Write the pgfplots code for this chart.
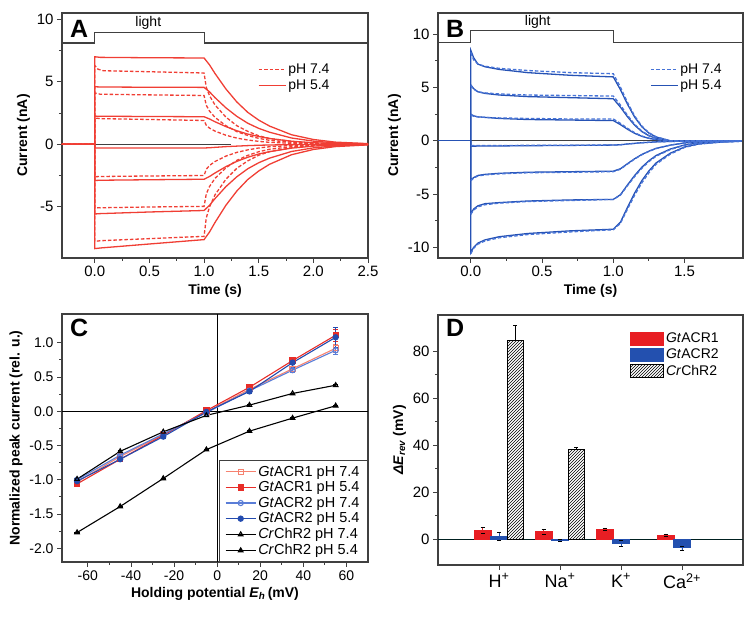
\documentclass[border=0pt]{standalone}
\usepackage{fontspec}
\setmainfont{Liberation Sans}
\usepackage{pgfplots}
\pgfplotsset{compat=1.18}
\usetikzlibrary{patterns}

\definecolor{ared}{RGB}{240,62,52}
\definecolor{bblue}{RGB}{38,82,180}
\definecolor{bdash}{RGB}{70,115,215}
\definecolor{c1a}{RGB}{246,130,112}
\definecolor{c1b}{RGB}{232,45,40}
\definecolor{c2a}{RGB}{90,125,215}
\definecolor{c2b}{RGB}{35,75,175}
\definecolor{dred}{RGB}{232,30,35}
\definecolor{dblue}{RGB}{35,80,175}
\definecolor{axgray}{RGB}{64,64,64}

\pgfplotsset{
  panel/.style={scale only axis, anchor=south west,
    axis line style={axgray, line width=1.1pt},
    tick style={axgray, line width=0.9pt},
    tick align=outside, xtick pos=left, ytick pos=left,
    major tick length=5pt, minor tick length=3pt,
    tick label style={font=\fontsize{15}{15}\selectfont},
    label style={font=\fontsize{14}{14}\selectfont\bfseries},
    /pgf/number format/assume math mode=true},
  onedec/.style={/pgf/number format/.cd, fixed, fixed zerofill, precision=1},
  aS/.style={ared, line width=1.3pt, forget plot},
  aD/.style={ared, line width=1.3pt, dash pattern=on 3.5pt off 2pt, forget plot},
  bS/.style={bblue, line width=1.3pt, forget plot},
  bD/.style={bdash, line width=1.3pt, dash pattern=on 3.5pt off 2pt, forget plot},
  lightline/.style={axgray, line width=1.1pt, forget plot},
  cline/.style={line width=1.1pt, mark size=2.6pt,
    error bars/y dir=both, error bars/y explicit},
  dbar/.style={ybar, bar width=0.275, bar shift=0pt, line width=0.8pt,
    legend image code/.code={\draw[##1] (0pt,-6.5pt) rectangle (33pt,6.5pt);}},
}

\begin{document}
\begin{tikzpicture}[x=1pt,y=1pt]
\useasboundingbox (0,0) rectangle (750,617);

% ---------------- A ----------------
\begin{axis}[panel, at={(62pt,359pt)}, width=306pt, height=245pt,
  xmin=-0.3, xmax=2.5, ymin=-9.1, ymax=10.5,
  xtick={0,0.5,1,1.5,2,2.5}, ytick={-5,0,5,10}, minor tick num=1,
  xticklabel style={onedec},
  xlabel={Time (s)}, ylabel={Current (nA)},
  legend style={draw=none, fill=none, at={(rel axis cs:0.63,0.81)}, anchor=north west,
    font=\fontsize{14}{16}\selectfont, row sep=1pt},
  legend image code/.code={\draw[#1] (0pt,0pt) -- (27pt,0pt);}]
\addplot[lightline] coordinates {(-0.3,8.1) (0,8.1) (0,8.95) (1,8.95) (1,8.1) (2.5,8.1)};
\node[font=\fontsize{14}{14}\selectfont] at (axis cs:0.49,9.7) {light};
\node[font=\fontsize{25}{25}\selectfont\bfseries] at (rel axis cs:0.056,0.935) {A};
\addplot[axgray, line width=1pt, forget plot] coordinates {(0,0) (1.25,0)};
% pH 5.4 (solid)
\addplot[aS] coordinates {(-0.3,0) (0,0) (0,7.0) (0.05,6.95) (0.5,6.92) (1.0,6.9) (1.05,6.35) (1.1,5.66) (1.2,4.42) (1.3,3.38) (1.4,2.55) (1.5,1.93) (1.6,1.45) (1.8,0.76) (2.0,0.38) (2.2,0.17) (2.5,0.05)};
\addplot[aS] coordinates {(-0.3,0) (0,0) (0,4.6) (0.05,4.58) (0.5,4.56) (1.0,4.55) (1.05,4.19) (1.1,3.73) (1.2,2.91) (1.3,2.23) (1.4,1.68) (1.5,1.27) (1.6,0.96) (1.8,0.50) (2.0,0.25) (2.2,0.11) (2.5,0.03)};
\addplot[aS] coordinates {(-0.3,0) (0,0) (0,2.25) (0.05,2.24) (0.5,2.22) (1.0,2.2) (1.05,2.02) (1.1,1.80) (1.2,1.41) (1.3,1.08) (1.4,0.81) (1.5,0.62) (1.6,0.46) (1.8,0.24) (2.0,0.12) (2.2,0.06) (2.5,0.02)};
\addplot[aS] coordinates {(-0.3,0) (0,0) (0,-0.3) (1.0,-0.3) (1.05,-0.28) (1.1,-0.25) (1.2,-0.19) (1.3,-0.15) (1.4,-0.11) (1.5,-0.08) (1.6,-0.06) (1.8,-0.03) (2.0,-0.02) (2.2,-0.01) (2.5,0)};
\addplot[aS] coordinates {(-0.3,0) (0,0) (0,-2.9) (0.05,-2.88) (0.5,-2.84) (1.0,-2.8) (1.05,-2.58) (1.1,-2.30) (1.2,-1.79) (1.3,-1.37) (1.4,-1.04) (1.5,-0.78) (1.6,-0.59) (1.8,-0.31) (2.0,-0.15) (2.2,-0.07) (2.5,-0.02)};
\addplot[aS] coordinates {(-0.3,0) (0,0) (0,-5.58) (0.05,-5.55) (0.5,-5.42) (1.0,-5.3) (1.05,-4.88) (1.1,-4.35) (1.2,-3.39) (1.3,-2.60) (1.4,-1.96) (1.5,-1.48) (1.6,-1.11) (1.8,-0.58) (2.0,-0.29) (2.2,-0.13) (2.5,-0.04)};
\addplot[aS] coordinates {(-0.3,0) (0,0) (0,-8.35) (0.05,-8.3) (0.5,-7.98) (1.0,-7.63) (1.05,-7.02) (1.1,-6.26) (1.2,-4.88) (1.3,-3.74) (1.4,-2.82) (1.5,-2.14) (1.6,-1.60) (1.8,-0.84) (2.0,-0.42) (2.2,-0.19) (2.5,-0.05)};
% pH 7.4 (dashed)
\addplot[aD] coordinates {(-0.3,0) (0,0) (0,6.3) (0.03,6.0) (0.08,5.88) (0.5,5.8) (1.0,5.7) (1.02,4.56) (1.05,3.88) (1.1,3.14) (1.2,2.17) (1.3,1.48) (1.4,1.03) (1.5,0.68) (1.6,0.46) (1.8,0.23) (2.0,0.09) (2.5,0)};
\addplot[aD] coordinates {(-0.3,0) (0,0) (0,4.1) (0.05,4.0) (0.5,3.95) (1.0,3.9) (1.02,3.12) (1.05,2.65) (1.1,2.15) (1.2,1.48) (1.3,1.01) (1.4,0.70) (1.5,0.47) (1.6,0.31) (1.8,0.16) (2.0,0.06) (2.5,0)};
\addplot[aD] coordinates {(-0.3,0) (0,0) (0,2.1) (0.05,2.05) (0.5,1.98) (1.0,1.9) (1.02,1.52) (1.05,1.29) (1.1,1.05) (1.2,0.72) (1.3,0.49) (1.4,0.34) (1.5,0.23) (1.6,0.15) (1.8,0.08) (2.0,0.03) (2.5,0)};
\addplot[aD] coordinates {(-0.3,0) (0,0) (0,-2.6) (0.05,-2.58) (0.5,-2.54) (1.0,-2.5) (1.02,-2.0) (1.05,-1.70) (1.1,-1.38) (1.2,-0.95) (1.3,-0.65) (1.4,-0.45) (1.5,-0.30) (1.6,-0.20) (1.8,-0.10) (2.0,-0.04) (2.5,0)};
\addplot[aD] coordinates {(-0.3,0) (0,0) (0,-5.1) (0.05,-5.08) (0.5,-5.02) (1.0,-4.97) (1.02,-3.98) (1.05,-3.38) (1.1,-2.73) (1.2,-1.89) (1.3,-1.29) (1.4,-0.89) (1.5,-0.60) (1.6,-0.40) (1.8,-0.20) (2.0,-0.07) (2.5,0)};
\addplot[aD] coordinates {(-0.3,0) (0,0) (0,-7.77) (0.05,-7.72) (0.5,-7.55) (1.0,-7.37) (1.02,-5.90) (1.05,-5.01) (1.1,-4.05) (1.2,-2.80) (1.3,-1.92) (1.4,-1.33) (1.5,-0.88) (1.6,-0.59) (1.8,-0.29) (2.0,-0.11) (2.5,0)};
\addlegendimage{ared, line width=1.3pt, dash pattern=on 3.5pt off 2pt}
\addlegendentry{pH 7.4}
\addlegendimage{ared, line width=1.3pt}
\addlegendentry{pH 5.4}
\end{axis}

% ---------------- B ----------------
\begin{axis}[panel, at={(438pt,359pt)}, width=305pt, height=245pt,
  xmin=-0.23, xmax=1.91, ymin=-11, ymax=12,
  xtick={0,0.5,1,1.5}, ytick={-10,-5,0,5,10}, minor tick num=1,
  xticklabel style={onedec},
  xlabel={Time (s)}, ylabel={Current (nA)},
  legend style={draw=none, fill=none, at={(rel axis cs:0.685,0.81)}, anchor=north west,
    font=\fontsize{14}{16}\selectfont, row sep=1pt},
  legend image code/.code={\draw[#1] (0pt,0pt) -- (27pt,0pt);}]
\addplot[lightline] coordinates {(-0.23,9.25) (0,9.25) (0,10.35) (1,10.35) (1,9.25) (1.91,9.25)};
\node[font=\fontsize{14}{14}\selectfont] at (axis cs:0.47,11.15) {light};
\node[font=\fontsize{25}{25}\selectfont\bfseries] at (rel axis cs:0.056,0.935) {B};
\addplot[axgray, line width=1.2pt, forget plot] coordinates {(0,0) (1.91,0)};
\addplot[bS] coordinates {(-0.23,0) (0,0)};
% pH 5.4 (solid)
\addplot[bS] coordinates {(0,0) (0,8.5) (0.02,7.8) (0.05,7.2) (0.1,6.95) (0.2,6.7) (0.4,6.4) (0.7,6.15) (1.0,6.0) (1.05,4.8) (1.1,3.42) (1.15,2.22) (1.2,1.32) (1.25,0.72) (1.3,0.36) (1.4,0) (1.5,-0.06) (1.6,0) (1.75,0) (1.9,0)};
\addplot[bS] coordinates {(0,0) (0,5.25) (0.02,4.9) (0.05,4.6) (0.1,4.45) (0.2,4.3) (0.4,4.15) (0.7,4.05) (1.0,3.95) (1.05,3.16) (1.1,2.25) (1.15,1.46) (1.2,0.87) (1.25,0.47) (1.3,0.24) (1.4,0) (1.5,-0.04) (1.6,0) (1.75,0) (1.9,0)};
\addplot[bS] coordinates {(0,0) (0,2.5) (0.02,2.35) (0.05,2.25) (0.1,2.2) (0.2,2.1) (0.4,2.0) (0.7,1.95) (1.0,1.9) (1.05,1.52) (1.1,1.08) (1.15,0.70) (1.2,0.42) (1.25,0.23) (1.3,0.11) (1.4,0) (1.5,-0.02) (1.6,0) (1.75,0) (1.9,0)};
\addplot[bS] coordinates {(0,0) (0,-0.5) (0.5,-0.45) (1.0,-0.4) (1.05,-0.37) (1.1,-0.30) (1.15,-0.24) (1.2,-0.18) (1.25,-0.14) (1.3,-0.10) (1.4,-0.06) (1.5,-0.03) (1.6,-0.01) (1.75,0) (1.9,0)};
\addplot[bS] coordinates {(0,0) (0,-3.7) (0.02,-3.45) (0.05,-3.25) (0.1,-3.15) (0.2,-3.05) (0.4,-2.95) (0.7,-2.9) (1.0,-2.85) (1.05,-2.62) (1.1,-2.14) (1.15,-1.68) (1.2,-1.28) (1.25,-0.97) (1.3,-0.71) (1.4,-0.40) (1.5,-0.20) (1.6,-0.10) (1.75,-0.04) (1.9,-0.01)};
\addplot[bS] coordinates {(0,0) (0,-6.85) (0.02,-6.4) (0.05,-6.1) (0.1,-5.9) (0.2,-5.8) (0.4,-5.65) (0.7,-5.55) (1.0,-5.5) (1.05,-5.06) (1.1,-4.13) (1.15,-3.25) (1.2,-2.48) (1.25,-1.87) (1.3,-1.38) (1.4,-0.77) (1.5,-0.39) (1.6,-0.19) (1.75,-0.08) (1.9,-0.03)};
\addplot[bS] coordinates {(0,0) (0,-10.5) (0.02,-10.0) (0.05,-9.6) (0.1,-9.3) (0.2,-9.0) (0.4,-8.7) (0.7,-8.45) (1.0,-8.3) (1.05,-7.64) (1.1,-6.23) (1.15,-4.90) (1.2,-3.74) (1.25,-2.82) (1.3,-2.08) (1.4,-1.16) (1.5,-0.58) (1.6,-0.29) (1.75,-0.12) (1.9,-0.04)};
% pH 7.4 (dashed)
\addplot[bD] coordinates {(0,8.3) (0.02,7.6) (0.05,7.2) (0.1,7.0) (0.2,6.8) (0.4,6.6) (0.7,6.4) (1.0,6.3) (1.05,5.04) (1.1,3.59) (1.15,2.33) (1.2,1.39) (1.25,0.76) (1.3,0.38) (1.4,0) (1.5,-0.06) (1.6,0) (1.75,0) (1.9,0)};
\addplot[bD] coordinates {(0,5.2) (0.02,4.85) (0.05,4.6) (0.1,4.5) (0.2,4.4) (0.4,4.3) (0.7,4.25) (1.0,4.2) (1.05,3.36) (1.1,2.39) (1.15,1.55) (1.2,0.92) (1.25,0.50) (1.3,0.25) (1.4,0) (1.5,-0.04) (1.6,0) (1.75,0) (1.9,0)};
\addplot[bD] coordinates {(0,2.45) (0.02,2.3) (0.05,2.25) (0.1,2.2) (0.2,2.15) (0.4,2.1) (0.7,2.05) (1.0,2.05) (1.05,1.64) (1.1,1.17) (1.15,0.76) (1.2,0.45) (1.25,0.25) (1.3,0.12) (1.4,0) (1.5,-0.02) (1.6,0) (1.75,0) (1.9,0)};
\addplot[bD] coordinates {(0,-0.45) (0.5,-0.42) (1.0,-0.4) (1.05,-0.37) (1.1,-0.30) (1.15,-0.24) (1.2,-0.18) (1.25,-0.14) (1.3,-0.10) (1.4,-0.06) (1.5,-0.03) (1.6,-0.01) (1.75,0) (1.9,0)};
\addplot[bD] coordinates {(0,-3.75) (0.02,-3.5) (0.05,-3.3) (0.1,-3.2) (0.2,-3.1) (0.4,-3.0) (0.7,-2.95) (1.0,-2.9) (1.05,-2.67) (1.1,-2.18) (1.15,-1.71) (1.2,-1.31) (1.25,-0.99) (1.3,-0.73) (1.4,-0.41) (1.5,-0.20) (1.6,-0.10) (1.75,-0.04) (1.9,-0.01)};
\addplot[bD] coordinates {(0,-6.9) (0.02,-6.5) (0.05,-6.2) (0.1,-6.0) (0.2,-5.85) (0.4,-5.7) (0.7,-5.6) (1.0,-5.5) (1.05,-5.1) (1.1,-4.2) (1.15,-3.35) (1.2,-2.58) (1.25,-1.95) (1.3,-1.45) (1.4,-0.82) (1.5,-0.42) (1.6,-0.20) (1.75,-0.09) (1.9,-0.03)};
\addplot[bD] coordinates {(0,-10.6) (0.02,-10.1) (0.05,-9.7) (0.1,-9.4) (0.2,-9.1) (0.4,-8.8) (0.7,-8.55) (1.0,-8.35) (1.05,-7.75) (1.1,-6.4) (1.15,-5.1) (1.2,-3.95) (1.25,-3.0) (1.3,-2.2) (1.4,-1.25) (1.5,-0.62) (1.6,-0.31) (1.75,-0.13) (1.9,-0.04)};
\addlegendimage{bdash, line width=1.3pt, dash pattern=on 3.5pt off 2pt}
\addlegendentry{pH 7.4}
\addlegendimage{bblue, line width=1.3pt}
\addlegendentry{pH 5.4}
\end{axis}

% ---------------- C ----------------
\begin{axis}[panel, at={(62pt,55pt)}, width=306pt, height=248pt,
  xmin=-72, xmax=70, ymin=-2.2, ymax=1.42,
  xtick={-60,-40,-20,0,20,40,60}, ytick={-2,-1.5,-1,-0.5,0,0.5,1}, minor tick num=1,
  yticklabel style={onedec},
  tick label style={font=\fontsize{14}{14}\selectfont},
  xlabel={Holding potential \textit{E}\textsubscript{\textit{h}}\,(mV)},
  ylabel={Normalized peak current (rel. u.)},
  legend style={at={(rel axis cs:1,0)}, anchor=south east, draw=axgray, line width=1pt,
    font=\fontsize{14.5}{16.5}\selectfont, cells={anchor=west}, row sep=0pt,
    inner xsep=6pt, inner ysep=3pt},
  legend image code/.code={\draw[mark repeat=2, mark phase=2, #1] plot coordinates {(0pt,0pt) (15pt,0pt) (30pt,0pt)};}]
\addplot[black, line width=1pt, forget plot] coordinates {(0,-2.2) (0,1.42)};
\addplot[black, line width=1pt, forget plot] coordinates {(-72,0) (70,0)};
\node[font=\fontsize{25}{25}\selectfont\bfseries] at (rel axis cs:0.056,0.944) {C};
\addplot[cline, c1a, mark=square, mark options={solid, fill=white}] coordinates {
  (-65,-1.03) +- (0,0.02) (-45,-0.66) +- (0,0.02) (-25,-0.34) +- (0,0.02) (-5,-0.01) +- (0,0.02)
  (15,0.32) +- (0,0.02) (35,0.62) +- (0,0.03) (55,0.92) +- (0,0.06)};
\addlegendentry{\textit{Gt}ACR1 pH 7.4}
\addplot[cline, c1b, mark=square*] coordinates {
  (-65,-1.06) +- (0,0.02) (-45,-0.70) +- (0,0.02) (-25,-0.35) +- (0,0.02) (-5,0.01) +- (0,0.02)
  (15,0.35) +- (0,0.03) (35,0.74) +- (0,0.05) (55,1.11) +- (0,0.09)};
\addlegendentry{\textit{Gt}ACR1 pH 5.4}
\addplot[cline, c2a, mark=o, mark options={solid, fill=white}] coordinates {
  (-65,-1.00) +- (0,0.02) (-45,-0.64) +- (0,0.02) (-25,-0.33) +- (0,0.02) (-5,-0.02) +- (0,0.02)
  (15,0.30) +- (0,0.02) (35,0.60) +- (0,0.03) (55,0.89) +- (0,0.05)};
\addlegendentry{\textit{Gt}ACR2 pH 7.4}
\addplot[cline, c2b, mark=*] coordinates {
  (-65,-1.02) +- (0,0.02) (-45,-0.70) +- (0,0.02) (-25,-0.37) +- (0,0.02) (-5,-0.01) +- (0,0.02)
  (15,0.29) +- (0,0.03) (35,0.71) +- (0,0.07) (55,1.08) +- (0,0.14)};
\addlegendentry{\textit{Gt}ACR2 pH 5.4}
\addplot[cline, black, mark=triangle, mark options={solid, fill=white}] coordinates {
  (-65,-0.99) +- (0,0.01) (-45,-0.585) +- (0,0.01) (-25,-0.30) +- (0,0.01) (-5,-0.06) +- (0,0.01)
  (15,0.09) +- (0,0.01) (35,0.26) +- (0,0.01) (55,0.38) +- (0,0.01)};
\addlegendentry{\textit{Cr}ChR2 pH 7.4}
\addplot[cline, black, mark=triangle*] coordinates {
  (-65,-1.77) +- (0,0.01) (-45,-1.39) +- (0,0.01) (-25,-0.98) +- (0,0.01) (-5,-0.56) +- (0,0.01)
  (15,-0.29) +- (0,0.01) (35,-0.10) +- (0,0.01) (55,0.08) +- (0,0.01)};
\addlegendentry{\textit{Cr}ChR2 pH 5.4}
\end{axis}

% ---------------- D ----------------
\begin{axis}[panel, at={(438pt,52pt)}, width=305pt, height=250pt,
  xmin=0, xmax=5, ymin=-11, ymax=95.4,
  xtick={1,2,3,4}, xticklabels={H\textsuperscript{+}, Na\textsuperscript{+}, K\textsuperscript{+}, Ca\textsuperscript{2+}},
  x tick label style={font=\fontsize{18}{18}\selectfont},
  ytick={0,20,40,60,80}, minor y tick num=1,
  ylabel={\textit{ΔE}\textsubscript{\textit{rev}} (mV)},
  legend style={draw=none, fill=none, at={(rel axis cs:0.62,0.945)}, anchor=north west,
    font=\fontsize{14}{16}\selectfont, cells={anchor=west}, row sep=1pt}]
\addplot[black!75!teal, line width=1pt, forget plot] coordinates {(0,0) (5,0)};
\node[font=\fontsize{25}{25}\selectfont\bfseries] at (rel axis cs:0.056,0.948) {D};
\addplot[dbar, fill=dred, draw=dred,
  error bars/y dir=both, error bars/y explicit] coordinates {
  (0.73,3.8) +- (0,1.2) (1.73,3.1) +- (0,1.2) (2.73,4.3) +- (0,0.5) (3.73,1.7) +- (0,0.6)};
\addlegendentry{\textit{Gt}ACR1}
\addplot[dbar, fill=dblue, draw=dblue,
  error bars/y dir=both, error bars/y explicit] coordinates {
  (1,1.1) +- (0,1.7) (2,-0.4) +- (0,0.3) (3,-1.7) +- (0,1.1) (4,-3.7) +- (0,0.9)};
\addlegendentry{\textit{Gt}ACR2}
\addplot[dbar, pattern=north east lines, draw=black,
  error bars/y dir=plus, error bars/y explicit] coordinates {
  (1.27,84.6) +- (0,6.4) (2.27,38.3) +- (0,0.8)};
\addlegendentry{\textit{Cr}ChR2}
\end{axis}
\end{tikzpicture}
\end{document}
